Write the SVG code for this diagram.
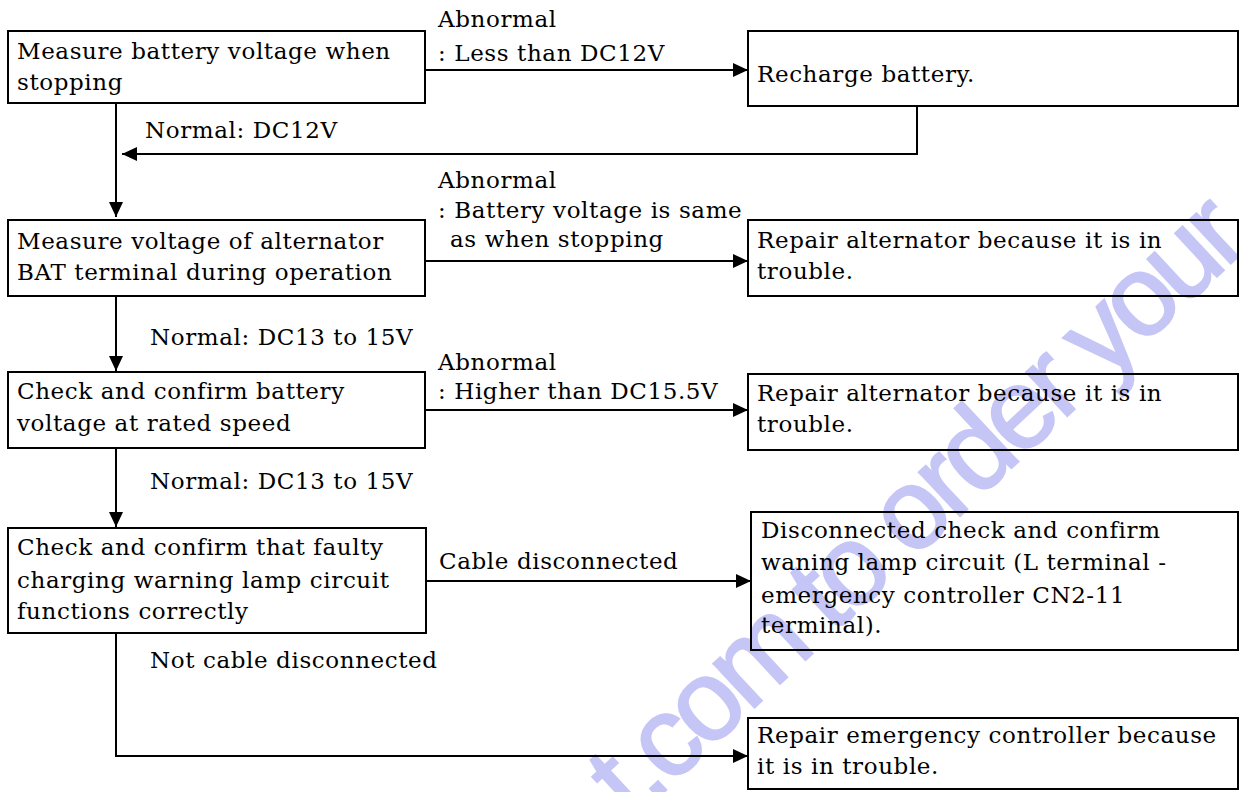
<svg xmlns="http://www.w3.org/2000/svg" width="1239" height="792" viewBox="0 0 1239 792">
  <defs>
    <style>
      .box { fill: none; stroke: #000; stroke-width: 2; }
      .t { font-family: "DejaVu Serif", "Liberation Serif", serif; font-size: 23px; letter-spacing: 0.6px; fill: #000; }
      .c { fill: none; stroke: #000; stroke-width: 2; }
      .wm { font-family: "Liberation Sans", Arial, sans-serif; font-size: 114px; letter-spacing: -6px; fill: #c6c6f6; stroke: #c6c6f6; stroke-width: 2; }
    </style>
    <marker id="arrow" markerUnits="userSpaceOnUse" markerWidth="15" markerHeight="14" refX="15" refY="7" orient="auto">
      <path d="M0,0 L15,7 L0,14 Z" fill="#000"/>
    </marker>
  </defs>

  <rect width="1239" height="792" fill="#fff"/>

  <!-- background stamp -->
  <text class="wm" transform="translate(632,822) rotate(-43)">t.com to order your</text>

  <!-- flow connectors -->
  <g id="connectors">
    <path class="c" d="M425,70 H748" marker-end="url(#arrow)"/>
    <path class="c" d="M917,106 V154 H122" marker-end="url(#arrow)"/>
    <path class="c" d="M116,103 V217" marker-end="url(#arrow)"/>
    <path class="c" d="M425,261 H748" marker-end="url(#arrow)"/>
    <path class="c" d="M116,296 V371" marker-end="url(#arrow)"/>
    <path class="c" d="M425,410 H748" marker-end="url(#arrow)"/>
    <path class="c" d="M116,448 V527" marker-end="url(#arrow)"/>
    <path class="c" d="M426,581 H751" marker-end="url(#arrow)"/>
    <path class="c" d="M116,633 V756 H748" marker-end="url(#arrow)"/>
  </g>

  <!-- branch labels -->
  <g id="labels">
    <text class="t" x="438" y="27">Abnormal</text>
    <text class="t" x="438" y="61">: Less than DC12V</text>
    <text class="t" x="145" y="138">Normal: DC12V</text>
    <text class="t" x="438" y="188">Abnormal</text>
    <text class="t" x="438" y="218">: Battery voltage is same</text>
    <text class="t" x="450" y="247">as when stopping</text>
    <text class="t" x="150" y="345">Normal: DC13 to 15V</text>
    <text class="t" x="438" y="370">Abnormal</text>
    <text class="t" x="438" y="399">: Higher than DC15.5V</text>
    <text class="t" x="150" y="489">Normal: DC13 to 15V</text>
    <text class="t" x="439" y="569">Cable disconnected</text>
    <text class="t" x="150" y="668">Not cable disconnected</text>
  </g>

  <g id="measure-stop">
    <rect class="box" x="8" y="31" width="417" height="72"/>
    <text class="t" x="17" y="59">Measure battery voltage when</text>
    <text class="t" x="17" y="90">stopping</text>
  </g>

  <g id="recharge">
    <rect class="box" x="748" y="31" width="490" height="75"/>
    <text class="t" x="757" y="82">Recharge battery.</text>
  </g>

  <g id="measure-bat">
    <rect class="box" x="8" y="220" width="417" height="76"/>
    <text class="t" x="17" y="249">Measure voltage of alternator</text>
    <text class="t" x="17" y="280">BAT terminal during operation</text>
  </g>

  <g id="repair-alt-1">
    <rect class="box" x="748" y="220" width="490" height="76"/>
    <text class="t" x="757" y="248">Repair alternator because it is in</text>
    <text class="t" x="757" y="279">trouble.</text>
  </g>

  <g id="check-rated">
    <rect class="box" x="8" y="372" width="417" height="76"/>
    <text class="t" x="17" y="399">Check and confirm battery</text>
    <text class="t" x="17" y="431">voltage at rated speed</text>
  </g>

  <g id="repair-alt-2">
    <rect class="box" x="748" y="374" width="490" height="76"/>
    <text class="t" x="757" y="401">Repair alternator because it is in</text>
    <text class="t" x="757" y="432">trouble.</text>
  </g>

  <g id="check-lamp">
    <rect class="box" x="8" y="528" width="418" height="105"/>
    <text class="t" x="17" y="555">Check and confirm that faulty</text>
    <text class="t" x="17" y="588">charging warning lamp circuit</text>
    <text class="t" x="17" y="619">functions correctly</text>
  </g>

  <g id="check-cable">
    <rect class="box" x="751" y="512" width="487" height="138"/>
    <text class="t" x="761" y="538">Disconnected check and confirm</text>
    <text class="t" x="761" y="570">waning lamp circuit (L terminal -</text>
    <text class="t" x="761" y="603">emergency controller CN2-11</text>
    <text class="t" x="761" y="633">terminal).</text>
  </g>

  <g id="repair-ctrl">
    <rect class="box" x="748" y="718" width="490" height="71"/>
    <text class="t" x="757" y="743">Repair emergency controller because</text>
    <text class="t" x="757" y="774">it is in trouble.</text>
  </g>
</svg>
